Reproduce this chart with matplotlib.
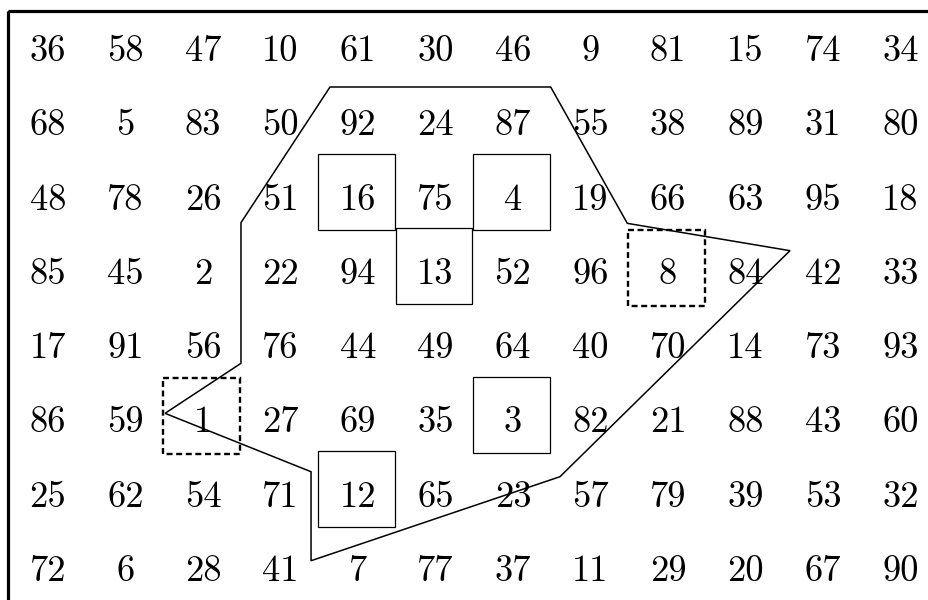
import matplotlib
matplotlib.use("Agg")
import matplotlib.pyplot as plt
from matplotlib.patches import Rectangle, Polygon

# Grid of numbers (rows top to bottom)
grid_values = [
    [36, 58, 47, 10, 61, 30, 46, 9, 81, 15, 74, 34],
    [68, 5, 83, 50, 92, 24, 87, 55, 38, 89, 31, 80],
    [48, 78, 26, 51, 16, 75, 4, 19, 66, 63, 95, 18],
    [85, 45, 2, 22, 94, 13, 52, 96, 8, 84, 42, 33],
    [17, 91, 56, 76, 44, 49, 64, 40, 70, 14, 73, 93],
    [86, 59, 1, 27, 69, 35, 3, 82, 21, 88, 43, 60],
    [25, 62, 54, 71, 12, 65, 23, 57, 79, 39, 53, 32],
    [72, 6, 28, 41, 7, 77, 37, 11, 29, 20, 67, 90],
]

# Highlighted cells (by value)
solid_box_values = [16, 13, 4, 3, 12]
dashed_box_values = [1, 8]

# Polygon vertices in grid units (column, row)
poly_x = [3.639, 6.486, 7.475, 9.574, 6.606, 3.394, 3.394, 1.510, 2.490, 2.490]
poly_y = [0.506, 0.506, 2.341, 2.709, 5.751, 6.882, 5.684, 4.898, 4.225, 2.332]

plt.rcParams['lines.scale_dashes'] = False

W, H = 929, 600
fig = plt.figure(figsize=(W / 100, H / 100), dpi=100)
fig.patch.set_facecolor("white")
ax = fig.add_axes([0, 0, 1, 1])
ax.set_axis_off()

col_px, row_px = 77.5, 74.3
x0_px, y0_px = 48.0, 49.4
ax.set_xlim(-x0_px / col_px, (W - x0_px) / col_px)
ax.set_ylim((H - y0_px) / row_px, -y0_px / row_px)

n_rows = len(grid_values)
n_cols = len(grid_values[0])

# outer frame
m = 0.517
ax.add_patch(Rectangle((-m, -m), n_cols - 1 + 2 * m, n_rows - 1 + 2 * m,
                       fill=False, lw=2.3, ec="black", zorder=1))

# numbers
for r, row in enumerate(grid_values):
    for c, v in enumerate(row):
        ax.text(c, r + 0.155, str(v), ha="center", va="baseline",
                fontsize=26.3, family="cmr10", color="black", zorder=3)

def find(v):
    for r, row in enumerate(grid_values):
        for c, val in enumerate(row):
            if val == v:
                return r, c

bw, bh = 0.99, 1.023
for v in solid_box_values:
    r, c = find(v)
    ax.add_patch(Rectangle((c - 0.02 - bw / 2, r - 0.08 - bh / 2), bw, bh,
                           fill=False, lw=0.9, ec="black", zorder=2))
for v in dashed_box_values:
    r, c = find(v)
    ax.add_patch(Rectangle((c - 0.02 - bw / 2, r - 0.06 - bh / 2), bw, bh,
                           fill=False, lw=1.7, ec="black",
                           linestyle=(0, (4.3, 2.6)), zorder=2))

ax.add_patch(Polygon(list(zip(poly_x, poly_y)), closed=True, fill=False,
                     lw=1.1, ec="black", zorder=2))

fig.savefig("out.png", dpi=100, facecolor="white")
